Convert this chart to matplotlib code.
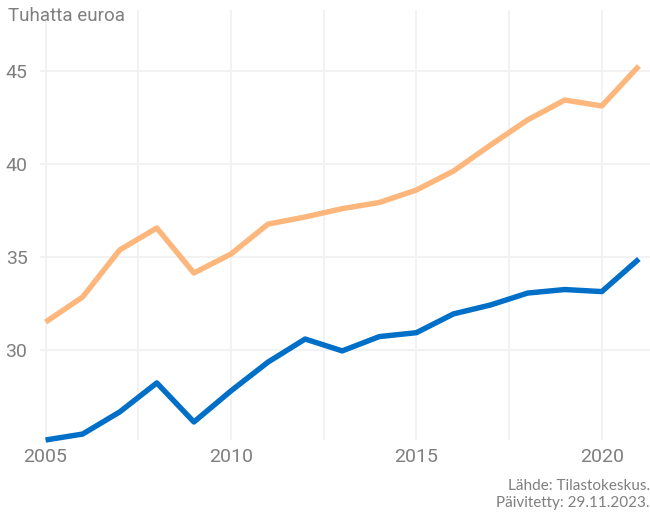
import matplotlib.pyplot as plt

years = list(range(2005, 2022))
orange_vals = [31.5, 32.85, 35.38, 36.56, 34.14, 35.16, 36.77, 37.15, 37.6, 37.93,
               38.6, 39.62, 41.02, 42.37, 43.44, 43.12, 45.27]
blue_vals = [25.16, 25.48, 26.67, 28.23, 26.13, 27.8, 29.35, 30.59, 29.95, 30.72,
             30.93, 31.94, 32.42, 33.06, 33.25, 33.14, 34.89]
x_ticks = [2005, 2010, 2015, 2020]
y_ticks = [30, 35, 40, 45]

plt.rcParams['font.family'] = ['Roboto', 'DejaVu Sans']
grey = '#7f7f7f'

fig = plt.figure(figsize=(6.5, 5.15), dpi=100)
ax = fig.add_axes([40/650, 75/515, 610/650, 430/515])

ax.plot(years, orange_vals, color='#FDB67B', lw=3.9, solid_capstyle='butt', clip_on=False, zorder=3)
ax.plot(years, blue_vals, color='#006FC8', lw=3.9, solid_capstyle='butt', clip_on=False, zorder=3)

ax.set_xlim(2004.85, 2021.3)
ax.set_ylim(25.16, 48.28)
ax.set_xticks(x_ticks)
ax.set_xticks([2007.5, 2012.5, 2017.5], minor=True)
ax.set_yticks(y_ticks)
ax.grid(True, which='both', color='#f2f2f2', lw=1.4)
ax.set_axisbelow(True)
for s in ax.spines.values():
    s.set_visible(False)
ax.tick_params(which='both', length=0, labelsize=14, labelcolor=grey)
ax.tick_params(axis='y', pad=9)
ax.tick_params(axis='x', pad=6)

fig.text(8/650, 1 - 16/515, 'Tuhatta euroa', fontsize=13.5, color=grey, va='center', ha='left')
fig.text(1.0, 1 - 486/515, 'Lähde: Tilastokeskus.', fontsize=11, color=grey, va='center', ha='right',
         family=['Lato', 'DejaVu Sans'])
fig.text(1.0, 1 - 503/515, 'Päivitetty: 29.11.2023.', fontsize=11, color=grey, va='center', ha='right',
         family=['Lato', 'DejaVu Sans'])

fig.savefig('out.png', dpi=100)
